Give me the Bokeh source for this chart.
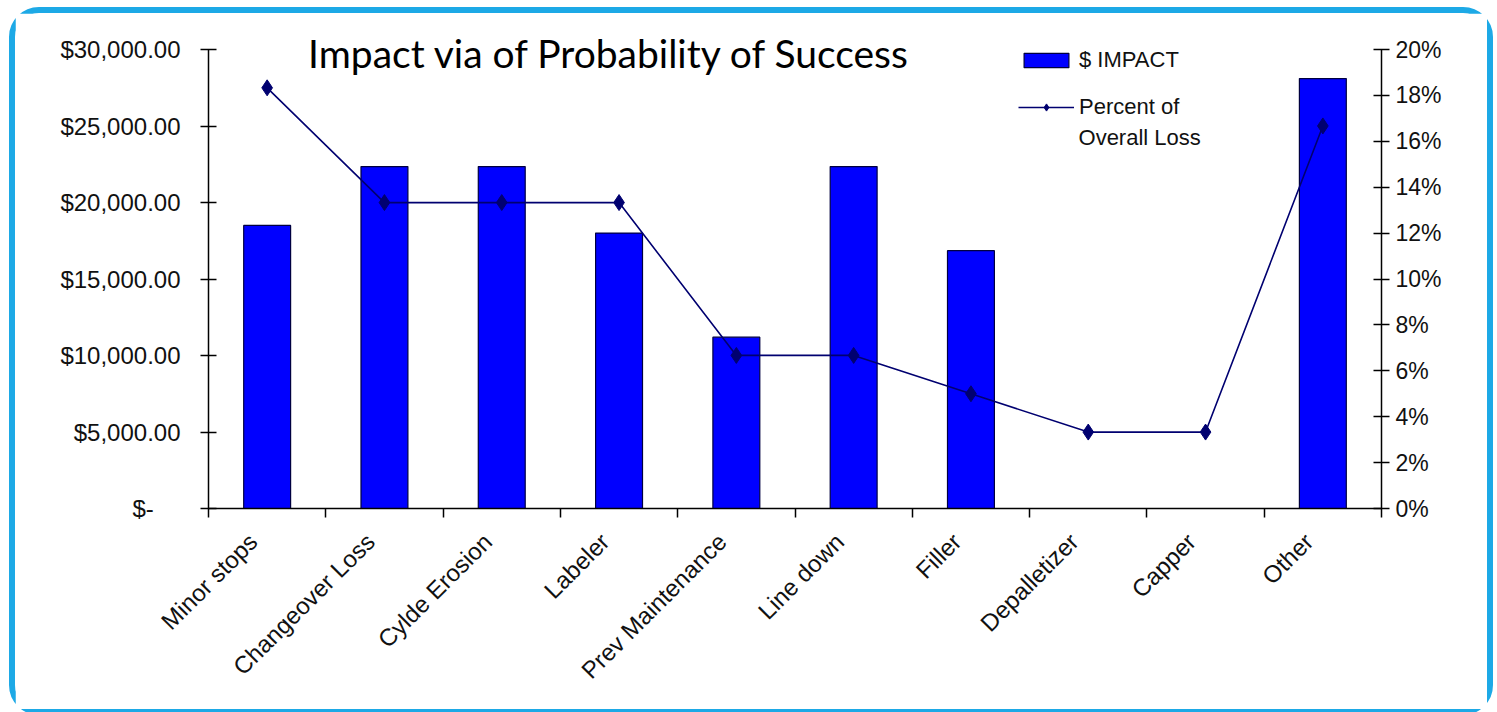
import math
from bokeh.plotting import figure
from bokeh.models import (Range1d, LinearAxis, FixedTicker, Legend, LegendItem,
                          Label, NumeralTickFormatter, ColumnDataSource,
                          CustomJSTickFormatter)
from bokeh.embed import file_html
from bokeh.resources import INLINE

# ---- data ----
categories = ["Minor stops", "Changeover Loss", "Cylde Erosion", "Labeler",
              "Prev Maintenance", "Line down", "Filler", "Depalletizer",
              "Capper", "Other"]
impact = [18500, 22350, 22350, 18000, 11200, 22350, 16850, 0, 0, 28100]
pct_loss = [0.1833, 0.1333, 0.1333, 0.1333, 0.0667, 0.0667, 0.05,
            0.0333, 0.0333, 0.1667]

left_tick_values = [0, 5000, 10000, 15000, 20000, 25000, 30000]
left_tick_labels = ["$-\u00a0\u00a0\u00a0\u00a0", "$5,000.00", "$10,000.00",
                    "$15,000.00", "$20,000.00", "$25,000.00", "$30,000.00"]
right_tick_values = [0, 0.02, 0.04, 0.06, 0.08, 0.10, 0.12, 0.14, 0.16, 0.18, 0.20]

title_text = "Impact via of Probability of Success"
legend_bar = "$ IMPACT"
legend_line_1 = "Percent of"
legend_line_2 = "Overall Loss"

# ---- derived ----
n = len(categories)
centers = list(range(n))
bounds = [i - 0.5 for i in range(n + 1)]
label_ticks = [c - 0.12 for c in centers]   # labels sit slightly left of centre
src = ColumnDataSource(dict(x=centers, cat=categories, impact=impact, pct=pct_loss))

FONT = "Liberation Sans"

# axis spans 459 px; the frame extends 21 px above it so the title is not clipped
AXIS_PX = 459
FRAME_PX = 480
usd_max = max(left_tick_values)
pct_max = max(right_tick_values)

p = figure(frame_width=1173, frame_height=FRAME_PX,
           min_border_left=193, min_border_right=106,
           min_border_top=15, min_border_bottom=201,
           x_range=Range1d(-0.5, n - 0.5),
           y_range=Range1d(0, usd_max * FRAME_PX / AXIS_PX),
           output_backend="svg", toolbar_location=None)
p.styles = {"border": "6px solid #1DA9E6", "border-radius": "30px",
            "margin-left": "9px", "margin-top": "7px"}
p.outline_line_color = None
p.xgrid.visible = False
p.ygrid.visible = False
p.background_fill_color = "white"
p.border_fill_color = "white"

p.extra_y_ranges = {"pct": Range1d(0, pct_max * FRAME_PX / AXIS_PX)}

bars = p.vbar(x="x", top="impact", width=0.4, source=src,
              fill_color="#0000FF", line_color="#000040", line_width=1.2)
line = p.line(x="x", y="pct", source=src, y_range_name="pct",
              line_color="#000070", line_width=1.6)
pts = p.scatter(x="x", y="pct", source=src, y_range_name="pct",
                marker="diamond", size=16, fill_color="#000070",
                line_color="#000070")

# x axis: labels near centres, tick marks at category boundaries
xa = p.xaxis[0]
xa.ticker = FixedTicker(ticks=label_ticks, minor_ticks=bounds)
xa.formatter = CustomJSTickFormatter(args=dict(cats=categories),
                                     code="return cats[Math.round(tick)];")
xa.major_tick_line_color = None
xa.minor_tick_in = 0
xa.minor_tick_out = 9
xa.minor_tick_line_color = "black"
xa.minor_tick_line_width = 1.5
xa.axis_line_color = "black"
xa.axis_line_width = 1.5
xa.major_label_orientation = math.pi / 4
xa.major_label_text_font = FONT
xa.major_label_text_font_size = "24px"
xa.major_label_text_color = "#111111"
xa.major_label_standoff = 20

ya = p.yaxis[0]
ya.ticker = FixedTicker(ticks=left_tick_values)
ya.bounds = (0, usd_max)
ya.major_label_overrides = {v: s for v, s in zip(left_tick_values, left_tick_labels)}
ya.minor_tick_line_color = None
ya.major_tick_in = 8
ya.major_tick_out = 8
ya.major_tick_line_width = 1.5
ya.axis_line_width = 1.5
ya.major_label_text_font = FONT
ya.major_label_text_font_size = "24px"
ya.major_label_text_color = "#111111"
ya.major_label_standoff = 20

ra = LinearAxis(y_range_name="pct", ticker=FixedTicker(ticks=right_tick_values),
                formatter=NumeralTickFormatter(format="0%"),
                bounds=(0, pct_max))
ra.minor_tick_line_color = None
ra.major_tick_in = 8
ra.major_tick_out = 8
ra.major_tick_line_width = 1.5
ra.axis_line_width = 1.5
ra.major_label_text_font = FONT
ra.major_label_text_font_size = "23px"
ra.major_label_text_color = "#111111"
ra.major_label_standoff = 6
p.add_layout(ra, "right")

title = Label(x=2.92, y=29740, text=title_text, text_font="Lato",
              text_font_size="39px", text_color="black",
              text_align="center", text_baseline="middle")
p.add_layout(title)

legend = Legend(items=[LegendItem(label=legend_bar, renderers=[bars]),
                       LegendItem(label=legend_line_1, renderers=[line, pts])],
                location=(810, 388),
                orientation="vertical",
                glyph_width=56, glyph_height=18, spacing=21, padding=0,
                margin=0, label_standoff=5, label_height=26, label_width=125,
                label_text_font=FONT, label_text_font_size="22px",
                label_text_color="#111111",
                border_line_color=None, background_fill_alpha=0)
p.add_layout(legend)

legend_cont = Label(x=6.917, y=24250, text=legend_line_2, text_font=FONT,
                    text_font_size="22px", text_color="#111111",
                    text_align="left", text_baseline="middle")
p.add_layout(legend_cont)

open("out.html", "w").write(file_html(p, INLINE))
